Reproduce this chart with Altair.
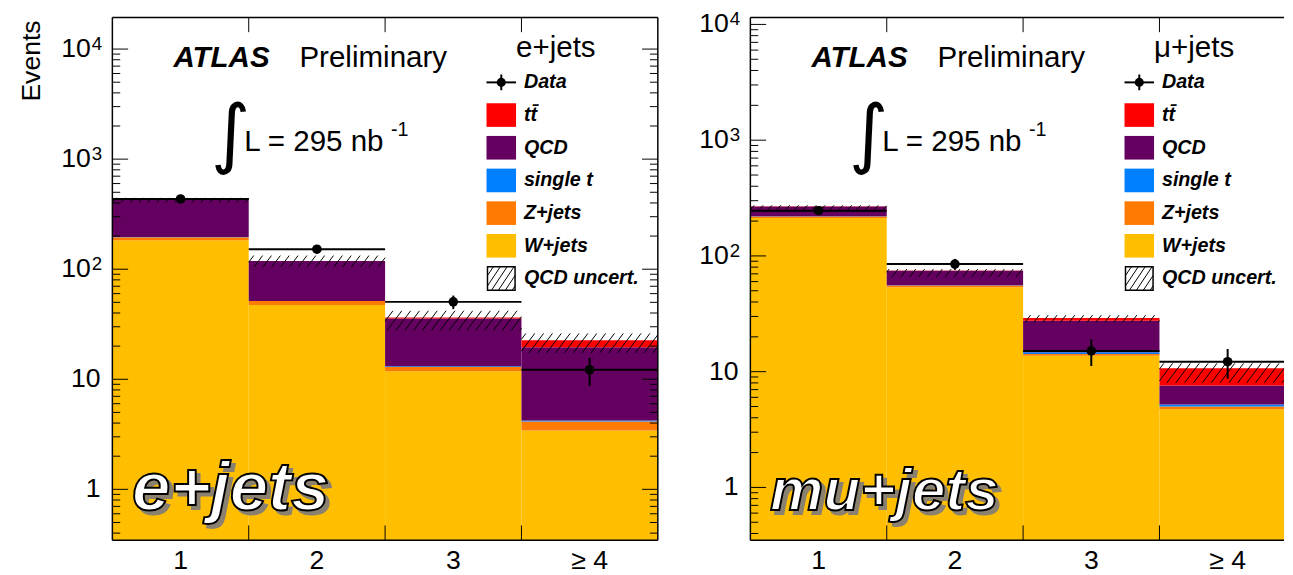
import altair as alt
import pandas as pd
import numpy as np

FONT = "Liberation Sans"

# ---------------- data ----------------
BIN_CENTERS = [1, 2, 3, 4]
BIN_LABELS = ["1", "2", "3", "≥ 4"]
Y_TICK_VALUES = [1, 10, 100, 1000, 10000]
Y_TICK_BASE = ["1", "10", "10", "10", "10"]
Y_TICK_EXP = ["", "", "2", "3", "4"]
STACK_ORDER = ["W+jets", "Z+jets", "single t", "QCD", "tt"]          # bottom -> top
STACK_COLORS = ["#FFBF00", "#FF7A00", "#0080FF", "#64005F", "#FF0000"]
LEGEND_LABELS = ["Data", "tt\u0304", "QCD", "single t", "Z+jets", "W+jets", "QCD uncert."]
LEGEND_COLORS = ["#FF0000", "#64005F", "#0080FF", "#FF7A00", "#FFBF00"]

# e+jets
E_WJETS = [183, 47.2, 11.8, 3.43]
E_ZJETS = [12, 4.1, 1.1, 0.71]
E_SINGLET = [1.0, 0.2, 0.2, 0.08]
E_QCD = [242, 67, 22.6, 15.3]
E_TTBAR = [0.8, 0.5, 0.8, 3.1]
E_DATA = [435, 152, 50.5, 12.2]
E_DATA_ERR = [21, 12.3, 7.1, 3.5]
E_UNC_LO = [405, 105, 27.8, 17.3]
E_UNC_HI = [445, 133, 41.9, 26.1]

# mu+jets
M_WJETS = [213, 53.5, 13.7, 4.74]
M_ZJETS = [6, 2.1, 0.5, 0.26]
M_SINGLET = [1.0, 0.3, 0.5, 0.2]
M_QCD = [47, 18.6, 12.9, 2.4]
M_TTBAR = [1.0, 0.5, 1.5, 3.1]
M_DATA = [246, 85, 15.1, 12.2]
M_DATA_ERR = [15.7, 9.2, 3.9, 3.5]
M_UNC_LO = [252, 66, 26.7, 8.0]
M_UNC_HI = [274, 77, 30.8, 11.8]

Y_LEFT = [0.345, 19400]
Y_RIGHT = [0.35, 11500]

# ---------------- layout ----------------
PW_L, PW_R, PH = 554, 542, 531
BIN_PX = 138.5
ONE = pd.DataFrame({"k": [0]})


def hatch_px(x0, x1, spacing, slant):
    segs = []
    a = x0 - slant
    a = a - (a % spacing)
    while a < x1:
        t0 = max(0.0, (x0 - a) / slant)
        t1 = min(1.0, (x1 - a) / slant)
        if t1 > t0:
            segs.append((a + t0 * slant, t0, a + t1 * slant, t1))
        a += spacing
    return segs


def seg(x1, y1, x2, y2, w=1.0, color="black"):
    return alt.Chart(ONE).mark_rule(color=color, strokeWidth=w).encode(
        x=alt.value(x1), y=alt.value(y1), x2=alt.value(x2), y2=alt.value(y2))


def vrule(x, y1, y2, w=1.0, color="black"):
    return alt.Chart(ONE).mark_rule(color=color, strokeWidth=w).encode(
        x=alt.value(x), y=alt.value(y1), y2=alt.value(y2))


def hrule(x1, x2, y, w=1.0, color="black"):
    return alt.Chart(ONE).mark_rule(color=color, strokeWidth=w).encode(
        x=alt.value(x1), x2=alt.value(x2), y=alt.value(y))


def txt(s, x, y, size, weight="normal", style="normal", align="left",
        baseline="alphabetic", fill="black", stroke=None, sw=0, font=FONT, angle=0):
    kw = dict(text=s, fontSize=size, font=font, fontWeight=weight, fontStyle=style,
              align=align, baseline=baseline, fill=fill, angle=angle)
    if stroke:
        kw.update(stroke=stroke, strokeWidth=sw)
    return alt.Chart(ONE).mark_text(**kw).encode(x=alt.value(x), y=alt.value(y))


def panel(comps, data, err, unc_lo, unc_hi, ydom, width, header, tag, tag_size,
          show_title, right_frame):
    xmax = 0.5 + width / BIN_PX
    xs = alt.Scale(domain=[0.5, xmax], nice=False, zero=False)
    ys = alt.Scale(type="log", domain=ydom, nice=False)
    ymin, ymax = ydom
    decade_px = PH / (np.log10(ymax) - np.log10(ymin))

    rows = []
    for i, b in enumerate(BIN_CENTERS):
        cum = 0.0
        for name, vals in zip(STACK_ORDER, comps):
            lo = cum if cum > 0 else ymin * 0.01
            cum += vals[i]
            rows.append(dict(comp=name, x0=b - 0.5, x1=b + 0.5, lo=lo, hi=cum))
    stack_df = pd.DataFrame(rows)

    stack = alt.Chart(stack_df).mark_rect(clip=True).encode(
        x=alt.X("x0:Q", scale=xs, axis=None), x2="x1:Q",
        y=alt.Y("lo:Q", scale=ys, axis=None), y2="hi:Q",
        color=alt.Color("comp:N", scale=alt.Scale(domain=STACK_ORDER, range=STACK_COLORS),
                        legend=None))

    # axis labels (real text, placed through the scales)
    ydf = pd.DataFrame({"v": Y_TICK_VALUES, "base": Y_TICK_BASE, "exp": Y_TICK_EXP})
    plain = ydf[ydf["exp"] == ""]
    powered = ydf[ydf["exp"] != ""]
    ylab1 = alt.Chart(plain).mark_text(
        font=FONT, fontSize=27, align="right", baseline="middle", color="black").encode(
        y=alt.Y("v:Q", scale=ys, axis=None), x=alt.value(-12), text="base:N")
    ylab2 = alt.Chart(powered).mark_text(
        font=FONT, fontSize=27, align="right", baseline="middle", color="black").encode(
        y=alt.Y("v:Q", scale=ys, axis=None), x=alt.value(-22), text="base:N")
    ylab3 = alt.Chart(powered).mark_text(
        font=FONT, fontSize=19, align="left", baseline="alphabetic", color="black", dy=1).encode(
        y=alt.Y("v:Q", scale=ys, axis=None), x=alt.value(-21), text="exp:N")
    xlab = alt.Chart(pd.DataFrame({"b": BIN_CENTERS, "t": BIN_LABELS})).mark_text(
        font=FONT, fontSize=27, align="center", baseline="top", color="black").encode(
        x=alt.X("b:Q", scale=xs, axis=None), y=alt.value(PH + 8), text="t:N")
    labels = [ylab1, ylab2, ylab3, xlab]
    if show_title:
        labels.append(txt("Events", -95, 3, 27, align="right", baseline="top", angle=270))

    # hatch for QCD uncertainty
    hrows = []
    for i, b in enumerate(BIN_CENTERS):
        llo, lhi = np.log10(unc_lo[i]), np.log10(unc_hi[i])
        hpx = (lhi - llo) * decade_px
        x0px = (b - 1) * BIN_PX
        for xa, ta, xb, tb in hatch_px(x0px, x0px + BIN_PX, 9.0, max(hpx * 0.75, 4)):
            hrows.append(dict(xa=0.5 + xa / BIN_PX, xb=0.5 + xb / BIN_PX,
                              ya=10 ** (llo + ta * (lhi - llo)),
                              yb=10 ** (llo + tb * (lhi - llo))))
    hatch = alt.Chart(pd.DataFrame(hrows)).mark_rule(color="black", strokeWidth=1, clip=True).encode(
        x=alt.X("xa:Q", scale=xs, axis=None), x2="xb:Q",
        y=alt.Y("ya:Q", scale=ys, axis=None), y2="yb:Q")

    ddf = pd.DataFrame(dict(b=BIN_CENTERS, v=data,
                            lo=[d - e for d, e in zip(data, err)],
                            hi=[d + e for d, e in zip(data, err)],
                            x0=[b - 0.5 for b in BIN_CENTERS], x1=[b + 0.5 for b in BIN_CENTERS]))
    dh = alt.Chart(ddf).mark_rule(color="black", strokeWidth=2, clip=True).encode(
        x=alt.X("x0:Q", scale=xs, axis=None), x2="x1:Q", y=alt.Y("v:Q", scale=ys, axis=None))
    dv = alt.Chart(ddf).mark_rule(color="black", strokeWidth=2, clip=True).encode(
        x=alt.X("b:Q", scale=xs, axis=None), y=alt.Y("lo:Q", scale=ys, axis=None), y2="hi:Q")
    dp = alt.Chart(ddf).mark_circle(color="black", opacity=1, size=95, clip=True).encode(
        x=alt.X("b:Q", scale=xs, axis=None), y=alt.Y("v:Q", scale=ys, axis=None))

    # inward ticks
    major, minor = [], []
    for k in range(-1, 5):
        for m in range(1, 10):
            v = m * 10 ** k
            if ymin < v < ymax:
                (major if m == 1 else minor).append(v)
    tick_layers = []
    sides = [(0, 1)] + ([(width, -1)] if right_frame else [])
    for vals, ln in ((major, 16), (minor, 8)):
        tdf = pd.DataFrame({"v": vals})
        for x_edge, sgn in sides:
            tick_layers.append(alt.Chart(tdf).mark_rule(color="black", strokeWidth=1).encode(
                y=alt.Y("v:Q", scale=ys, axis=None),
                x=alt.value(x_edge), x2=alt.value(x_edge + sgn * ln)))
    edf = pd.DataFrame({"e": [1.5, 2.5, 3.5]})
    tick_layers.append(alt.Chart(edf).mark_rule(color="black", strokeWidth=1).encode(
        x=alt.X("e:Q", scale=xs, axis=None), y=alt.value(0), y2=alt.value(15)))
    tick_layers.append(alt.Chart(edf).mark_rule(color="black", strokeWidth=1).encode(
        x=alt.X("e:Q", scale=xs, axis=None), y=alt.value(PH - 15), y2=alt.value(PH)))

    frame = [hrule(0, width, 0, 1.5), hrule(0, width, PH, 1.5), vrule(0, 0, PH, 1.5)]
    if right_frame:
        frame.append(vrule(width, 0, PH, 1.5))

    # annotations
    ann = [
        txt(tag, 24, 504, tag_size, "bold", "italic", fill="#8A8170", stroke="#8A8170", sw=2),
        txt(tag, 20, 500, tag_size, "bold", "italic", fill="white", stroke="black", sw=2),
        txt("ATLAS", 62, 50, 30, "bold", "italic"),
        txt("Preliminary", 190, 50, 30),
        txt("∫", 100, 144, 77, font="DejaVu Sans"),
        txt("L = 295 nb", 134, 136, 30),
        txt("-1", 283, 120, 20),
        txt(header, 410, 40, 30),
    ]
    lrows = [66 + 33.2 * i for i in range(7)]
    leg = [hrule(380, 410, lrows[0], 2), vrule(395, lrows[0] - 8, lrows[0] + 8, 2),
           alt.Chart(ONE).mark_circle(color="black", opacity=1, size=85).encode(
               x=alt.value(395), y=alt.value(lrows[0]))]
    for i, c in enumerate(LEGEND_COLORS):
        r = lrows[i + 1]
        leg.append(alt.Chart(ONE).mark_rect(color=c).encode(
            x=alt.value(380), x2=alt.value(410), y=alt.value(r - 12), y2=alt.value(r + 12)))
    r = lrows[6]
    leg.append(alt.Chart(ONE).mark_rect(fill="white", stroke="black", strokeWidth=1.5).encode(
        x=alt.value(381), x2=alt.value(409), y=alt.value(r - 12), y2=alt.value(r + 12)))
    for xa, ta, xb, tb in hatch_px(381, 409, 7.0, 16.0):
        leg.append(seg(xa, r + 12 - ta * 24, xb, r + 12 - tb * 24))
    for lab, r in zip(LEGEND_LABELS, lrows):
        leg.append(txt(lab, 418, r, 20, "bold", "italic", baseline="middle"))

    return alt.layer(stack, hatch, *tick_layers, *frame, dh, dv, dp, *ann, *leg,
                     *labels).properties(width=width, height=PH)


left = panel([E_WJETS, E_ZJETS, E_SINGLET, E_QCD, E_TTBAR], E_DATA, E_DATA_ERR,
             E_UNC_LO, E_UNC_HI, Y_LEFT, PW_L, "e+jets", "e+jets", 70, True, True)
right = panel([M_WJETS, M_ZJETS, M_SINGLET, M_QCD, M_TTBAR], M_DATA, M_DATA_ERR,
              M_UNC_LO, M_UNC_HI, Y_RIGHT, PW_R, "μ+jets", "mu+jets", 61, False, False)

chart = alt.hconcat(left, right, spacing=94, bounds="flush").properties(
    padding={"left": 10, "top": -2, "right": 0, "bottom": 10},
    background="white",
).configure_view(strokeWidth=0)

chart.save("out.html", embed_options={"renderer": "svg", "actions": False})
